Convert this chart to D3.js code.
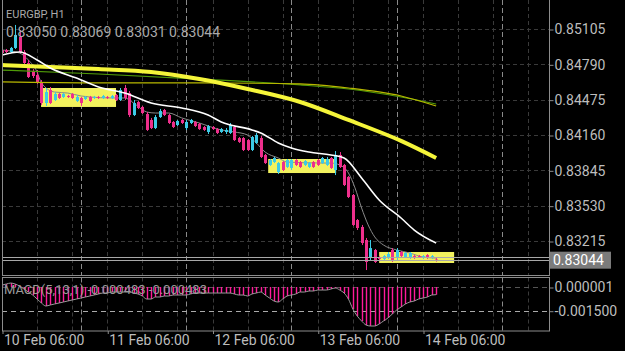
<!DOCTYPE html>
<html>
<head>
<meta charset="utf-8">
<script src="https://cdnjs.cloudflare.com/ajax/libs/d3/7.8.5/d3.min.js"></script>
<style>
  body { margin: 0; background: #000; }
  svg { display: block; font-family: Roboto, sans-serif; }
</style>
</head>
<body>
<script>
const w = 625;
const h = 351;

// --- data ---
const symbol = "EURGBP, H1";
const startTime = Date.UTC(2014, 1, 10, 6); // first H1 bar, 10 Feb 06:00

const candleOpen = [
  0.84918,0.84918,0.84900,0.84936,0.85034,0.84900,0.84802,0.84731,0.84695,0.84632,
  0.84445,0.84561,0.84472,0.84526,0.84499,0.84508,0.84526,0.84463,0.84490,0.84481,
  0.84499,0.84490,0.84499,0.84490,0.84499,0.84490,0.84517,0.84472,0.84579,0.84534,
  0.84338,0.84454,0.84410,0.84347,0.84294,0.84222,0.84320,0.84383,0.84338,0.84276,
  0.84249,0.84294,0.84222,0.84267,0.84276,0.84258,0.84231,0.84187,0.84231,0.84213,
  0.84187,0.84187,0.84178,0.84231,0.84133,0.84133,0.84115,0.84026,0.84089,0.84133,
  0.83982,0.83893,0.83919,0.83830,0.83919,0.83875,0.83866,0.83937,0.83919,0.83893,
  0.83875,0.83919,0.83937,0.83910,0.83893,0.83955,0.83848,0.83982,0.83893,0.83786,
  0.83625,0.83402,0.83340,0.83224,0.83072,0.83135,0.83072,0.83055,0.83064,0.83135,
  0.83064,0.83117,0.83072,0.83064,0.83081,0.83081,0.83064,0.83090,0.83064,0.83050
];
const candleHigh = [
  0.84936,0.84927,0.84945,0.85141,0.85096,0.84918,0.84829,0.84748,0.84739,0.84650,
  0.84579,0.84588,0.84543,0.84534,0.84534,0.84517,0.84534,0.84517,0.84499,0.84508,
  0.84508,0.84508,0.84508,0.84517,0.84508,0.84517,0.84526,0.84579,0.84606,0.84552,
  0.84472,0.84463,0.84419,0.84365,0.84312,0.84338,0.84392,0.84392,0.84347,0.84285,
  0.84294,0.84303,0.84294,0.84303,0.84285,0.84267,0.84240,0.84249,0.84240,0.84222,
  0.84222,0.84222,0.84267,0.84249,0.84142,0.84142,0.84124,0.84151,0.84178,0.84151,
  0.83991,0.83946,0.83964,0.83919,0.83928,0.83946,0.83946,0.83946,0.83928,0.83937,
  0.83919,0.83928,0.83946,0.83964,0.83964,0.83964,0.84017,0.84008,0.83902,0.83795,
  0.83634,0.83411,0.83358,0.83242,0.83224,0.83144,0.83081,0.83090,0.83117,0.83152,
  0.83152,0.83126,0.83117,0.83117,0.83090,0.83090,0.83090,0.83099,0.83090,0.83069
];
const candleLow = [
  0.84882,0.84891,0.84891,0.84927,0.84891,0.84793,0.84668,0.84668,0.84615,0.84427,
  0.84419,0.84436,0.84463,0.84481,0.84490,0.84490,0.84481,0.84454,0.84419,0.84472,
  0.84454,0.84481,0.84481,0.84481,0.84481,0.84481,0.84463,0.84463,0.84472,0.84320,
  0.84329,0.84392,0.84347,0.84196,0.84213,0.84213,0.84312,0.84329,0.84258,0.84222,
  0.84240,0.84258,0.84205,0.84258,0.84231,0.84205,0.84196,0.84169,0.84205,0.84169,
  0.84178,0.84169,0.84169,0.84107,0.84089,0.84017,0.84017,0.84017,0.84080,0.83955,
  0.83902,0.83884,0.83910,0.83812,0.83839,0.83866,0.83848,0.83884,0.83866,0.83884,
  0.83866,0.83866,0.83884,0.83902,0.83884,0.83857,0.83803,0.83866,0.83705,0.83598,
  0.83349,0.83313,0.83179,0.82956,0.83046,0.83019,0.83046,0.83046,0.83055,0.83028,
  0.83046,0.83072,0.83064,0.83055,0.83055,0.83064,0.83055,0.83055,0.83055,0.83031
];
const candleClose = [
  0.84891,0.84900,0.84936,0.85052,0.84900,0.84802,0.84677,0.84686,0.84632,0.84445,
  0.84543,0.84445,0.84526,0.84490,0.84526,0.84499,0.84490,0.84499,0.84445,0.84499,
  0.84463,0.84499,0.84490,0.84508,0.84490,0.84508,0.84472,0.84561,0.84490,0.84338,
  0.84445,0.84401,0.84356,0.84205,0.84222,0.84320,0.84374,0.84338,0.84267,0.84231,
  0.84285,0.84267,0.84276,0.84294,0.84240,0.84213,0.84205,0.84240,0.84213,0.84178,
  0.84213,0.84205,0.84249,0.84115,0.84098,0.84026,0.84026,0.84142,0.84160,0.83964,
  0.83910,0.83937,0.83955,0.83910,0.83848,0.83937,0.83937,0.83893,0.83875,0.83928,
  0.83910,0.83875,0.83893,0.83955,0.83946,0.83866,0.83982,0.83875,0.83714,0.83607,
  0.83358,0.83331,0.83197,0.83028,0.83152,0.83028,0.83055,0.83081,0.83099,0.83046,
  0.83135,0.83081,0.83108,0.83108,0.83064,0.83072,0.83081,0.83064,0.83081,0.83044
];

// MACD(5,13,1) main value per bar
const macdValues = [
  0.000127,0.000190,0.000253,0.000190,0.000063,-0.000127,-0.000317,-0.000506,-0.000760,-0.001013,
  -0.001203,-0.001139,-0.001076,-0.001013,-0.000950,-0.000886,-0.000823,-0.000760,-0.000696,-0.000633,
  -0.000570,-0.000506,-0.000443,-0.000380,-0.000380,-0.000317,-0.000317,-0.000317,-0.000317,-0.000317,
  -0.000380,-0.000443,-0.000570,-0.000760,-0.000760,-0.000633,-0.000633,-0.000570,-0.000570,-0.000506,
  -0.000506,-0.000506,-0.000506,-0.000443,-0.000380,-0.000380,-0.000380,-0.000380,-0.000380,-0.000380,
  -0.000380,-0.000380,-0.000380,-0.000443,-0.000506,-0.000506,-0.000570,-0.000443,-0.000380,-0.000317,
  -0.000506,-0.000696,-0.000886,-0.000950,-0.000760,-0.000570,-0.000506,-0.000443,-0.000317,-0.000317,
  -0.000253,-0.000253,-0.000190,-0.000190,-0.000190,-0.000127,-0.000063,-0.000190,-0.000380,-0.000760,
  -0.001393,-0.001836,-0.002152,-0.002405,-0.002469,-0.002469,-0.002342,-0.002152,-0.001962,-0.001709,
  -0.001456,-0.001266,-0.001076,-0.000950,-0.000886,-0.000760,-0.000696,-0.000633,-0.000506,-0.000483
];

// moving averages: [bar index, price]
const maThickYellow = [[0,0.84784],[11,0.84766],[22,0.84748],[34,0.84722],[45,0.84659],[56,0.84570],[68,0.84454],[79,0.84294],[91,0.84107],[99,0.83955]];
const maGreen = [[0,0.84739],[22,0.84704],[45,0.84659],[68,0.84606],[79,0.84570],[91,0.84499],[99,0.84436]];
const maOlive = [[0,0.84633],[22,0.84624],[45,0.84624],[68,0.84615],[79,0.84579],[91,0.84508],[99,0.84419]];
const maWhite = [[0,0.84873],[4,0.84900],[8,0.84829],[11,0.84757],[17,0.84668],[22,0.84588],[28,0.84534],[34,0.84445],[41,0.84401],[47,0.84338],[50,0.84276],[57,0.84205],[59,0.84178],[63,0.84089],[66,0.84044],[70,0.84008],[75,0.83982],[78,0.83955],[82,0.83777],[86,0.83581],[91,0.83420],[94,0.83313],[99,0.83197]];
const maGrey = [[0,0.84918],[4,0.84891],[6,0.84829],[8,0.84722],[9,0.84624],[12,0.84543],[15,0.84534],[18,0.84508],[20,0.84499],[25,0.84490],[28,0.84490],[30,0.84445],[33,0.84365],[35,0.84356],[38,0.84356],[41,0.84312],[45,0.84267],[50,0.84205],[53,0.84187],[56,0.84160],[58,0.84089],[60,0.84008],[63,0.83955],[65,0.83919],[73,0.83910],[75,0.83910],[77,0.83893],[79,0.83821],[80.5,0.83688],[82,0.83509],[83.5,0.83358],[85,0.83251],[87,0.83179],[90,0.83135],[93,0.83108],[96,0.83072],[99,0.83063]];

// range boxes: [from bar, to bar, top price, bottom price]
const rangeBoxes = [[8.9, 26.0, 0.84579, 0.84410], [60.7, 76.2, 0.83946, 0.83821], [86.0, 103.1, 0.83117, 0.83019]];

const priceTicks = [0.85105, 0.84790, 0.84475, 0.84160, 0.83845, 0.83530, 0.83215];
const macdTicks = [0.000001, -0.0015];
const timeTickHours = [0, 24, 48, 72, 96];
const askPrice = 0.83072;

// --- layout ---
const left = 2, right = 549;
const mainTop = 0, mainBottom = 275.5;
const macdTop = 277.5, macdBottom = 331;
const hour = 3600e3;
const timeOf = (i) => new Date(startTime + i * hour);
const n = candleClose.length;

const x = d3.scaleUtc()
  .domain([timeOf(0), timeOf(96)])
  .range([2, 423]);

const y = d3.scaleLinear()
  .domain([0.83215, 0.85105])
  .range([241, 29]);

const my = d3.scaleLinear()
  .domain([-0.0015, 0.000001])
  .range([310.7, 287]);

const svg = d3.select("body")
  .append("svg")
  .attr("width", w)
  .attr("height", h);

svg.append("rect").attr("width", w).attr("height", h).attr("fill", "#000");

const defs = svg.append("defs");
defs.append("clipPath").attr("id", "clipMain")
  .append("rect").attr("x", left).attr("y", mainTop).attr("width", right - left).attr("height", mainBottom - mainTop);
defs.append("clipPath").attr("id", "clipMacd")
  .append("rect").attr("x", left).attr("y", macdTop).attr("width", right - left).attr("height", macdBottom - macdTop);

// grid: every 8 hours dim, midnight bright
const grid = svg.append("g");
const tEnd = x.invert(right).getTime();
for (let t = startTime + 8 * hour; t < tEnd; t += 8 * hour) {
  const gx = Math.round(x(new Date(t))) + 0.5;
  [[mainTop, mainBottom], [macdTop, macdBottom]].forEach(([a, b]) => {
    grid.append("line").attr("x1", gx).attr("x2", gx).attr("y1", a).attr("y2", b)
      .attr("stroke", "#3a3a3a").attr("stroke-dasharray", "4,3");
  });
}
for (let t = startTime + 18 * hour; t < tEnd; t += 24 * hour) {
  const gx = Math.round(x(new Date(t))) + 0.5;
  [[mainTop, mainBottom], [macdTop, macdBottom]].forEach(([a, b]) => {
    grid.append("line").attr("x1", gx).attr("x2", gx).attr("y1", a).attr("y2", b)
      .attr("stroke", "#8a8a8a").attr("stroke-dasharray", "5,3");
  });
}
priceTicks.forEach(p => {
  const gy = Math.round(y(p)) + 0.5;
  grid.append("line").attr("x1", left).attr("x2", right).attr("y1", gy).attr("y2", gy)
    .attr("stroke", "#3a3a3a").attr("stroke-dasharray", "4,3");
});
macdTicks.forEach((v, k) => {
  const gy = Math.round(my(v)) + 0.5;
  grid.append("line").attr("x1", left).attr("x2", right).attr("y1", gy).attr("y2", gy)
    .attr("stroke", k === 0 ? "#555" : "#aaa").attr("stroke-dasharray", "5,4");
});

// main pane
const main = svg.append("g").attr("clip-path", "url(#clipMain)");

main.selectAll("rect.box")
  .data(rangeBoxes)
  .join("rect")
  .attr("class", "box")
  .attr("x", d => x(timeOf(d[0])))
  .attr("width", d => x(timeOf(d[1])) - x(timeOf(d[0])))
  .attr("y", d => y(d[2]))
  .attr("height", d => y(d[3]) - y(d[2]))
  .attr("fill", "#f2f25e");

const lineGen = d3.line()
  .x(d => x(timeOf(d[0])))
  .y(d => y(d[1]))
  .curve(d3.curveMonotoneX);

const candles = d3.range(n).map(i => ({
  i, o: candleOpen[i], h: candleHigh[i], l: candleLow[i], c: candleClose[i]
}));
const bull = "#3ccbe6", bear = "#ee2f8c";

main.append("path").datum(maGrey)
  .attr("d", lineGen).attr("fill", "none").attr("stroke", "#8a8a8a").attr("stroke-width", 1);

const cg = main.selectAll("g.candle").data(candles).join("g").attr("class", "candle");
cg.append("line")
  .attr("x1", d => Math.round(x(timeOf(d.i))) + 0.5)
  .attr("x2", d => Math.round(x(timeOf(d.i))) + 0.5)
  .attr("y1", d => y(d.h))
  .attr("y2", d => y(d.l))
  .attr("stroke", d => d.c >= d.o ? bull : bear);
cg.append("rect")
  .attr("x", d => Math.round(x(timeOf(d.i))) - 1)
  .attr("width", 3)
  .attr("y", d => y(Math.max(d.o, d.c)))
  .attr("height", d => Math.max(1, Math.abs(y(d.o) - y(d.c))))
  .attr("fill", d => d.c >= d.o ? bull : bear);

main.append("path").datum(maGreen)
  .attr("d", lineGen).attr("fill", "none").attr("stroke", "#4f9a08").attr("stroke-width", 1.2);
main.append("path").datum(maOlive)
  .attr("d", lineGen).attr("fill", "none").attr("stroke", "#b8b800").attr("stroke-width", 1.2);
main.append("path").datum(maThickYellow)
  .attr("d", lineGen).attr("fill", "none").attr("stroke", "#f5f53a").attr("stroke-width", 4);
main.append("path").datum(maWhite)
  .attr("d", lineGen).attr("fill", "none").attr("stroke", "#fff").attr("stroke-width", 1.6);

// bid / ask lines
const lastClose = candleClose[n - 1];
[lastClose, askPrice].forEach(p => {
  main.append("line").attr("x1", left).attr("x2", right)
    .attr("y1", Math.round(y(p)) + 0.5).attr("y2", Math.round(y(p)) + 0.5)
    .attr("stroke", "#a8a8a8");
});

// MACD pane
const macd = svg.append("g").attr("clip-path", "url(#clipMacd)");
macd.selectAll("line.bar")
  .data(macdValues)
  .join("line")
  .attr("class", "bar")
  .attr("x1", (d, i) => Math.round(x(timeOf(i))) + 0.5)
  .attr("x2", (d, i) => Math.round(x(timeOf(i))) + 0.5)
  .attr("y1", my(0))
  .attr("y2", d => my(d))
  .attr("stroke", "#ff1a9a")
  .attr("stroke-width", 1.4);
macd.append("path")
  .datum(macdValues)
  .attr("d", d3.line().x((d, i) => x(timeOf(i))).y(d => my(d)).curve(d3.curveMonotoneX))
  .attr("fill", "none").attr("stroke", "#9a9a9a").attr("stroke-width", 1);

// pane borders
const border = "#8c8c8c";
svg.append("rect").attr("x", left + 0.5).attr("y", -1).attr("width", right - left).attr("height", mainBottom + 1)
  .attr("fill", "none").attr("stroke", border);
svg.append("rect").attr("x", left + 0.5).attr("y", macdTop).attr("width", right - left).attr("height", macdBottom - macdTop)
  .attr("fill", "none").attr("stroke", border);

// axes
const axisStyle = (g, size) => {
  g.select(".domain").remove();
  g.selectAll(".tick line").attr("stroke", border);
  g.selectAll(".tick text").attr("fill", "#bdbdbd").style("font-size", size + "px").style("font-family", "Roboto, sans-serif");
};

const yAxis = d3.axisRight(y).tickValues(priceTicks).tickFormat(d3.format(".5f")).tickSize(4).tickPadding(1);
svg.append("g").attr("transform", "translate(" + (right + 0.5) + ",0.5)").call(yAxis).call(g => axisStyle(g, 14));

const macdAxis = d3.axisRight(my).tickValues(macdTicks).tickFormat(d => d.toFixed(6)).tickSize(4).tickPadding(1);
svg.append("g").attr("transform", "translate(" + (right + 0.5) + ",0.5)").call(macdAxis).call(g => axisStyle(g, 14));

const xAxis = d3.axisBottom(x)
  .tickValues(timeTickHours.map(timeOf))
  .tickFormat(d3.utcFormat("%d %b %H:%M"))
  .tickSize(3).tickPadding(1);
svg.append("g").attr("transform", "translate(0.5," + macdBottom + ")").call(xAxis)
  .call(g => axisStyle(g, 14))
  .call(g => g.selectAll(".tick text").attr("text-anchor", "start").attr("dx", 1));

// current price tag
svg.append("rect").attr("x", 550).attr("y", y(lastClose) - 8.5).attr("width", 61).attr("height", 17).attr("fill", "#7b7b7b");
svg.append("text").attr("x", 553).attr("y", y(lastClose) + 5)
  .attr("fill", "#fff").style("font-size", "14px").text(d3.format(".5f")(lastClose));

// labels
svg.append("text").attr("x", 6).attr("y", 18).attr("fill", "#aaa").style("font-size", "11px").text(symbol);
svg.append("text").attr("x", 6).attr("y", 37).attr("fill", "#aaa").style("font-size", "14px")
  .text([candleOpen[n - 1], candleHigh[n - 1], candleLow[n - 1], lastClose].map(d3.format(".5f")).join(" "));
const lastMacd = macdValues[n - 1].toFixed(6);
svg.append("text").attr("x", 4).attr("y", 294).attr("fill", "#9a9a9a").style("font-size", "13px")
  .text("MACD(5,13,1) " + lastMacd + " " + lastMacd);
</script>
</body>
</html>
